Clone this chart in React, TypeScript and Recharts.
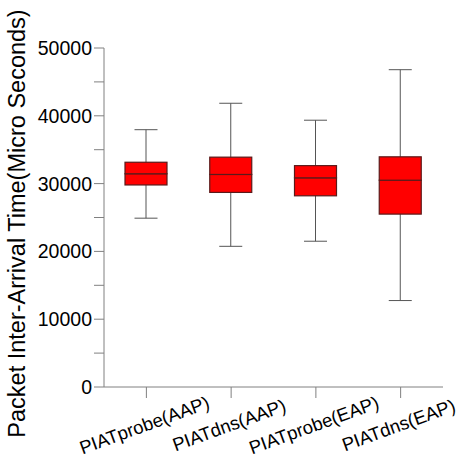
import React from "react";
import {
  Bar,
  ComposedChart,
  Label,
  XAxis,
  YAxis,
} from "recharts";

const categories = ["PIATprobe(AAP)", "PIATdns(AAP)", "PIATprobe(EAP)", "PIATdns(EAP)"];
const minValues = [24900, 20750, 21500, 12750];
const q1Values = [29800, 28700, 28200, 25500];
const medianValues = [31450, 31350, 30850, 30500];
const q3Values = [33150, 33900, 32650, 33950];
const maxValues = [37950, 41850, 39350, 46800];
const yTicks = [0, 5000, 10000, 15000, 20000, 25000, 30000, 35000, 40000, 45000, 50000];

const data = categories.map((name, i) => ({
  name,
  whisker: [minValues[i], maxValues[i]],
  lowerBox: [q1Values[i], medianValues[i]],
  upperBox: [medianValues[i], q3Values[i]],
}));

const axisColor = "#808080";
const font = "'Liberation Sans', Arial, sans-serif";

// whisker: vertical stem from min to max with caps at both ends
const renderWhisker = (props: any) => {
  const { x, y, width, height } = props;
  const cx = x + width / 2;
  return (
    <g stroke="#555555" strokeWidth={1}>
      <line x1={cx} x2={cx} y1={y} y2={y + height} />
      <line x1={cx - 11.5} x2={cx + 11.5} y1={y} y2={y} />
      <line x1={cx - 11.5} x2={cx + 11.5} y1={y + height} y2={y + height} />
    </g>
  );
};

const renderBox = (props: any) => {
  const { x, y, width, height } = props;
  return (
    <rect x={x} y={y} width={width} height={height} fill="#FF0000" stroke="#5a1a1a" strokeWidth={1.2} />
  );
};

const XTick = (props: any) => {
  const { x, y, payload } = props;
  return (
    <g transform={`translate(${x - 2},${y + 25})`}>
      <text
        transform="rotate(-20)"
        textAnchor="middle"
        dominantBaseline="central"
        fontFamily={font}
        fontSize={18.5}
        fill="#000"
      >
        {payload.value}
      </text>
    </g>
  );
};

export default function App() {
  return (
    <div style={{ position: "absolute", left: 0, top: 0, background: "#fff" }}>
      <ComposedChart
        width={459}
        height={460}
        data={data}
        margin={{ top: 48, right: 16, bottom: 0, left: 0 }}
        barSize={42}
        barGap={-42}
      >
        <XAxis
          dataKey="name"
          stroke={axisColor}
          tickSize={11}
          tickLine={{ stroke: axisColor }}
          tick={<XTick />}
          height={73}
          interval={0}
        />
        <YAxis
          domain={[0, 50000]}
          ticks={yTicks}
          interval={0}
          width={104}
          stroke={axisColor}
          tickSize={10}
          tickLine={{ stroke: axisColor }}
          tickFormatter={(v: number) => (v % 10000 === 0 ? String(v) : "")}
          tick={{ fill: "#000", fontFamily: font, fontSize: 19.5 }}
        >
          <Label
            content={(p: any) => {
              const vb = p.viewBox;
              const cy = vb.y + vb.height / 2 + 6;
              return (
                <text
                  x={17}
                  y={cy}
                  transform={`rotate(-90, 17, ${cy})`}
                  textAnchor="middle"
                  dominantBaseline="central"
                  fontFamily={font}
                  fontSize={23.5}
                  fill="#000"
                >
                  Packet Inter-Arrival Time(Micro Seconds)
                </text>
              );
            }}
          />
        </YAxis>
        <Bar dataKey="whisker" fill="#555" isAnimationActive={false} shape={renderWhisker} />
        <Bar dataKey="lowerBox" fill="#FF0000" isAnimationActive={false} shape={renderBox} />
        <Bar dataKey="upperBox" fill="#FF0000" isAnimationActive={false} shape={renderBox} />
      </ComposedChart>
    </div>
  );
}
